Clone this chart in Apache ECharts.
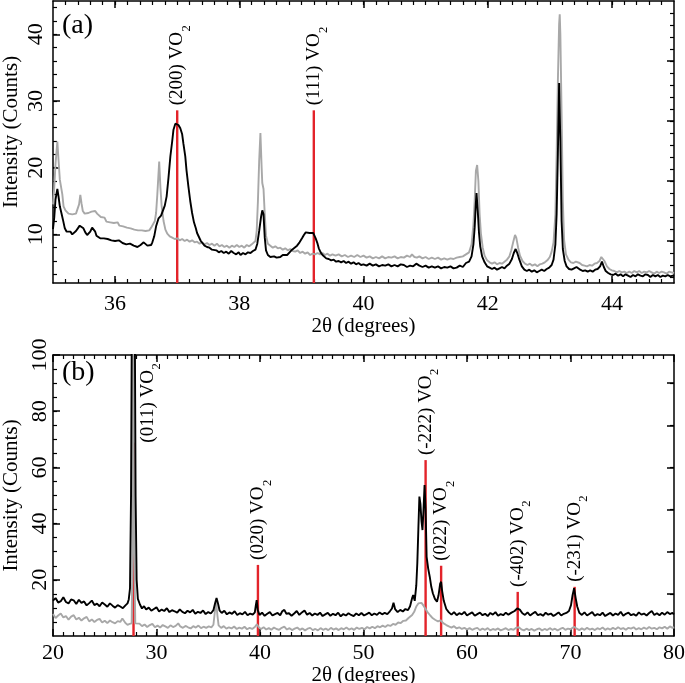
<!DOCTYPE html>
<html>
<head>
<meta charset="utf-8">
<script src="https://cdn.jsdelivr.net/npm/echarts@6/dist/echarts.min.js"></script>
<style>
  html, body { margin: 0; padding: 0; background: #fff; }
  #chart { width: 685px; height: 683px; }
</style>
</head>
<body>
<div id="chart"></div>
<script>
// ---- panel (a): 35-45 deg, black = sample 1, grey = sample 2
const blackA = [[35.00,10.8],[35.02,12.5],[35.04,15.2],[35.07,16.8],[35.09,15.6],[35.11,14.2],[35.14,13.0],[35.16,12.2],[35.19,10.9],[35.22,10.4],[35.25,10.2],[35.28,10.4],[35.31,10.0],[35.34,10.2],[35.37,10.5],[35.40,10.9],[35.43,11.3],[35.46,11.4],[35.49,10.9],[35.52,10.3],[35.55,9.9],[35.57,9.8],[35.60,10.4],[35.63,11.0],[35.65,11.2],[35.68,10.4],[35.70,9.8],[35.73,9.6],[35.76,9.4],[35.79,9.7],[35.82,9.4],[35.85,9.6],[35.88,9.3],[35.91,9.4],[35.94,9.1],[35.97,9.3],[36.00,9.0],[36.03,8.9],[36.06,9.1],[36.09,8.8],[36.12,8.7],[36.15,8.9],[36.18,8.5],[36.21,8.2],[36.24,8.6],[36.27,8.4],[36.30,8.3],[36.33,8.6],[36.36,8.1],[36.38,7.9],[36.41,8.4],[36.44,8.6],[36.46,8.8],[36.49,8.5],[36.52,8.3],[36.55,8.6],[36.58,8.4],[36.60,8.8],[36.63,9.7],[36.66,11.2],[36.70,12.4],[36.74,12.8],[36.77,13.0],[36.80,14.3],[36.83,15.7],[36.86,18.5],[36.89,21.7],[36.92,24.0],[36.94,25.7],[36.97,26.6],[37.00,26.9],[37.02,26.4],[37.05,25.9],[37.08,25.0],[37.10,23.6],[37.13,21.7],[37.15,19.6],[37.18,17.2],[37.21,15.0],[37.24,13.2],[37.27,11.8],[37.30,10.9],[37.32,10.2],[37.35,9.6],[37.38,9.0],[37.40,8.7],[37.44,8.3],[37.48,8.1],[37.52,8.0],[37.56,7.7],[37.59,7.9],[37.63,7.6],[37.67,7.3],[37.71,7.5],[37.75,7.2],[37.79,7.4],[37.83,7.1],[37.87,7.5],[37.91,7.2],[37.95,7.0],[37.99,7.3],[38.02,6.9],[38.06,7.2],[38.10,7.0],[38.14,7.3],[38.18,7.2],[38.22,7.5],[38.26,7.7],[38.29,8.6],[38.32,10.5],[38.35,12.6],[38.37,13.6],[38.39,13.0],[38.41,9.5],[38.43,7.6],[38.46,6.9],[38.50,6.6],[38.53,6.4],[38.56,6.7],[38.60,6.5],[38.63,6.8],[38.66,6.6],[38.70,6.9],[38.73,6.7],[38.77,6.9],[38.81,7.3],[38.85,7.7],[38.89,8.0],[38.93,8.3],[38.97,8.8],[39.01,9.4],[39.04,9.9],[39.07,10.3],[39.10,10.0],[39.13,10.2],[39.16,9.9],[39.19,10.2],[39.21,9.8],[39.23,9.4],[39.26,8.6],[39.28,7.9],[39.31,7.3],[39.34,6.9],[39.37,6.7],[39.40,6.4],[39.44,6.3],[39.48,6.1],[39.52,6.2],[39.56,5.9],[39.60,6.0],[39.64,5.8],[39.68,6.0],[39.72,5.7],[39.76,5.9],[39.80,5.6],[39.84,5.8],[39.88,5.5],[39.92,5.7],[39.96,5.4],[40.00,5.5],[40.05,5.3],[40.10,5.6],[40.15,5.3],[40.20,5.5],[40.25,5.2],[40.30,5.4],[40.35,5.3],[40.40,5.5],[40.45,5.2],[40.50,5.4],[40.55,5.2],[40.60,5.5],[40.65,5.4],[40.70,5.1],[40.75,5.3],[40.80,5.2],[40.85,5.6],[40.90,5.3],[40.95,5.1],[41.00,5.3],[41.05,5.0],[41.10,5.2],[41.15,5.0],[41.20,5.2],[41.25,4.9],[41.30,5.1],[41.35,5.0],[41.40,5.2],[41.45,4.9],[41.50,5.0],[41.55,5.3],[41.60,5.1],[41.65,5.7],[41.70,5.9],[41.74,6.7],[41.77,8.5],[41.79,11.0],[41.81,14.8],[41.82,16.2],[41.84,13.5],[41.86,10.2],[41.88,8.2],[41.91,6.7],[41.95,5.8],[41.99,5.2],[42.03,5.0],[42.07,4.8],[42.11,5.0],[42.15,4.7],[42.19,4.9],[42.23,5.1],[42.27,4.9],[42.31,5.3],[42.35,5.6],[42.39,6.3],[42.42,7.2],[42.45,7.8],[42.48,7.1],[42.51,6.2],[42.55,5.2],[42.59,4.7],[42.63,4.5],[42.67,4.7],[42.71,4.4],[42.75,4.6],[42.79,4.3],[42.83,4.5],[42.87,4.7],[42.91,4.5],[42.95,4.8],[42.99,5.0],[43.03,5.4],[43.06,6.2],[43.09,8.5],[43.11,13.0],[43.13,22.0],[43.15,32.7],[43.17,24.0],[43.19,12.0],[43.21,7.8],[43.24,6.0],[43.27,5.2],[43.31,4.8],[43.35,4.7],[43.39,4.9],[43.43,5.1],[43.46,5.2],[43.49,4.7],[43.53,4.5],[43.57,4.6],[43.61,4.4],[43.65,4.6],[43.69,4.4],[43.73,4.7],[43.77,4.8],[43.81,5.2],[43.84,5.9],[43.87,5.1],[43.90,4.5],[43.94,4.2],[43.98,4.0],[44.02,3.9],[44.06,4.1],[44.10,3.8],[44.14,4.0],[44.18,3.7],[44.22,4.0],[44.26,3.8],[44.30,3.6],[44.34,3.9],[44.38,3.7],[44.42,4.0],[44.46,3.8],[44.50,3.7],[44.54,4.0],[44.58,3.9],[44.62,3.6],[44.66,3.9],[44.70,3.7],[44.74,3.9],[44.78,3.6],[44.82,3.8],[44.86,3.7],[44.90,3.9],[44.94,3.7],[44.98,3.8],[45.00,3.7]];

const greyA = [[35.00,14.5],[35.02,17.0],[35.04,20.5],[35.07,23.9],[35.09,21.0],[35.11,18.2],[35.13,18.0],[35.15,16.0],[35.17,14.2],[35.20,13.6],[35.22,13.4],[35.25,13.1],[35.28,13.4],[35.31,13.0],[35.34,13.3],[35.37,13.1],[35.40,13.4],[35.42,14.5],[35.44,15.9],[35.46,14.6],[35.48,13.5],[35.51,13.1],[35.54,12.8],[35.57,13.2],[35.60,13.5],[35.62,13.4],[35.65,13.7],[35.68,13.5],[35.71,13.1],[35.74,12.8],[35.77,12.6],[35.80,12.3],[35.83,12.5],[35.86,11.9],[35.89,12.2],[35.92,11.8],[35.95,12.0],[35.98,11.7],[36.01,11.5],[36.04,11.8],[36.07,11.3],[36.10,11.6],[36.13,11.2],[36.16,11.4],[36.19,11.0],[36.22,11.3],[36.25,10.9],[36.28,11.2],[36.31,10.7],[36.34,10.9],[36.37,10.6],[36.40,10.9],[36.43,10.6],[36.46,10.8],[36.49,10.5],[36.52,10.8],[36.55,10.6],[36.58,11.0],[36.61,11.2],[36.64,12.0],[36.66,13.2],[36.68,16.0],[36.71,20.9],[36.73,17.0],[36.75,14.2],[36.78,12.0],[36.81,10.7],[36.84,10.1],[36.88,9.7],[36.92,9.5],[36.96,9.3],[37.00,9.4],[37.04,9.1],[37.08,9.3],[37.12,9.0],[37.16,9.2],[37.20,8.9],[37.24,9.1],[37.28,8.8],[37.32,8.9],[37.36,8.6],[37.40,8.8],[37.44,8.5],[37.48,8.7],[37.52,8.4],[37.56,8.6],[37.60,8.3],[37.64,8.6],[37.68,8.2],[37.72,8.4],[37.76,8.1],[37.80,8.3],[37.84,8.0],[37.88,8.3],[37.92,8.1],[37.96,8.4],[38.00,8.1],[38.04,8.3],[38.08,8.0],[38.12,8.4],[38.16,8.2],[38.20,8.5],[38.23,8.4],[38.26,9.0],[38.28,10.5],[38.30,15.0],[38.32,21.0],[38.34,25.2],[38.36,20.0],[38.37,17.7],[38.39,16.8],[38.41,13.0],[38.43,9.8],[38.46,8.6],[38.50,8.3],[38.54,8.0],[38.58,8.2],[38.62,7.9],[38.66,8.0],[38.70,7.7],[38.74,7.9],[38.78,7.6],[38.82,7.8],[38.86,7.5],[38.90,7.4],[38.94,7.6],[38.98,7.2],[39.02,7.4],[39.06,7.1],[39.10,7.3],[39.14,6.9],[39.18,7.1],[39.22,7.0],[39.26,7.2],[39.30,7.0],[39.34,7.2],[39.38,6.9],[39.42,7.1],[39.46,6.8],[39.50,7.0],[39.55,6.8],[39.60,7.0],[39.65,6.7],[39.70,6.9],[39.75,6.6],[39.80,6.8],[39.85,6.6],[39.90,6.9],[39.95,6.6],[40.00,6.8],[40.05,6.5],[40.10,6.7],[40.15,6.4],[40.20,6.6],[40.25,6.4],[40.30,6.7],[40.35,6.4],[40.40,6.6],[40.45,6.5],[40.50,6.7],[40.55,6.4],[40.60,6.6],[40.65,6.5],[40.70,6.8],[40.75,6.6],[40.78,7.0],[40.82,6.6],[40.86,6.5],[40.90,6.7],[40.95,6.4],[41.00,6.6],[41.05,6.3],[41.10,6.5],[41.15,6.3],[41.20,6.5],[41.25,6.2],[41.30,6.4],[41.35,6.2],[41.40,6.4],[41.45,6.3],[41.50,6.5],[41.55,6.6],[41.60,6.7],[41.65,7.0],[41.70,7.3],[41.74,8.5],[41.77,11.5],[41.79,15.0],[41.81,19.5],[41.83,20.4],[41.85,18.0],[41.87,13.0],[41.89,10.2],[41.92,8.0],[41.95,6.8],[41.99,6.1],[42.03,5.8],[42.07,5.6],[42.11,5.8],[42.15,5.5],[42.19,5.7],[42.23,5.6],[42.27,5.9],[42.31,6.2],[42.35,6.7],[42.38,7.6],[42.41,8.8],[42.44,9.9],[42.46,9.5],[42.49,8.0],[42.52,6.8],[42.56,6.0],[42.60,5.6],[42.64,5.4],[42.68,5.6],[42.72,5.3],[42.76,5.5],[42.80,5.2],[42.84,5.5],[42.88,5.6],[42.92,5.8],[42.96,6.1],[43.00,6.6],[43.03,7.4],[43.06,8.8],[43.09,13.0],[43.11,22.0],[43.13,33.0],[43.15,41.5],[43.16,43.0],[43.17,40.0],[43.19,28.0],[43.21,15.0],[43.23,9.2],[43.26,7.0],[43.30,6.2],[43.34,5.8],[43.38,5.7],[43.42,5.9],[43.45,6.1],[43.48,5.7],[43.52,5.4],[43.56,5.3],[43.60,5.2],[43.64,5.4],[43.68,5.3],[43.72,5.6],[43.76,5.7],[43.80,6.0],[43.83,6.6],[43.85,6.9],[43.88,6.0],[43.92,5.2],[43.96,4.8],[44.00,4.6],[44.04,4.5],[44.08,4.3],[44.12,4.5],[44.16,4.3],[44.20,4.4],[44.24,4.2],[44.28,4.4],[44.32,4.2],[44.36,4.5],[44.40,4.3],[44.44,4.5],[44.48,4.2],[44.52,4.4],[44.56,4.3],[44.60,4.5],[44.64,4.3],[44.68,4.1],[44.72,4.4],[44.76,4.2],[44.80,4.4],[44.84,4.3],[44.88,4.1],[44.92,4.4],[44.96,4.3],[45.00,4.2]];

// ---- panel (b): 20-80 deg
const blackB = [[20.0,12.6],[20.25,13.5],[20.5,11.9],[20.75,12.4],[21.0,13.8],[21.25,12.1],[21.5,11.6],[21.75,13.0],[22.0,12.7],[22.25,11.4],[22.5,12.9],[22.75,11.8],[23.0,12.3],[23.25,10.9],[23.5,11.7],[23.75,12.6],[24.0,11.0],[24.25,11.5],[24.5,10.6],[24.75,11.9],[25.0,11.2],[25.25,10.4],[25.5,11.6],[25.75,10.8],[26.0,10.1],[26.25,11.0],[26.5,10.5],[26.75,9.9],[27.0,10.9],[27.2,11.6],[27.32,13.0],[27.44,17.0],[27.54,50.0],[27.62,115.0],[27.9,115.0],[27.98,50.0],[28.08,20.0],[28.2,13.2],[28.4,11.2],[28.6,9.8],[28.8,10.6],[29.0,9.4],[29.25,10.1],[29.5,9.0],[29.75,9.6],[30.0,10.2],[30.25,8.7],[30.5,9.4],[30.75,8.9],[31.0,9.9],[31.25,8.5],[31.5,9.2],[31.75,8.8],[32.0,8.3],[32.25,9.5],[32.5,8.6],[32.75,8.1],[33.0,9.0],[33.25,8.4],[33.5,9.3],[33.75,7.9],[34.0,8.6],[34.25,8.2],[34.5,9.1],[34.75,7.8],[35.0,8.5],[35.25,8.0],[35.5,9.2],[35.65,11.5],[35.8,13.5],[35.95,11.5],[36.1,9.0],[36.3,8.2],[36.55,9.0],[36.8,7.7],[37.05,8.4],[37.3,7.9],[37.55,8.8],[37.8,7.5],[38.05,8.1],[38.3,7.7],[38.55,8.6],[38.8,7.4],[39.05,8.0],[39.3,7.6],[39.5,8.4],[39.6,11.0],[39.68,12.8],[39.78,9.2],[39.95,7.5],[40.2,8.3],[40.45,7.2],[40.7,7.9],[40.95,8.5],[41.2,7.3],[41.45,7.8],[41.7,8.2],[41.95,7.4],[42.15,8.8],[42.35,9.3],[42.55,7.9],[42.8,8.1],[43.05,7.2],[43.3,8.0],[43.55,8.9],[43.8,7.5],[44.05,8.4],[44.3,9.1],[44.55,7.6],[44.8,8.2],[45.05,7.3],[45.3,8.0],[45.55,7.5],[45.8,8.3],[46.05,7.1],[46.3,7.7],[46.55,8.2],[46.8,7.2],[47.05,7.9],[47.3,7.4],[47.55,8.3],[47.8,7.0],[48.05,7.8],[48.3,7.3],[48.55,8.1],[48.8,7.5],[49.05,7.1],[49.3,8.0],[49.55,7.4],[49.8,8.2],[50.05,7.3],[50.3,7.8],[50.55,8.3],[50.8,7.4],[51.05,8.0],[51.3,7.5],[51.55,8.4],[51.8,7.7],[52.05,8.2],[52.3,7.8],[52.55,8.8],[52.75,9.8],[52.9,11.8],[53.05,9.6],[53.3,8.5],[53.55,9.3],[53.8,8.7],[54.05,9.6],[54.3,9.2],[54.5,10.6],[54.7,13.5],[54.8,14.6],[54.95,12.5],[55.1,18.0],[55.2,26.0],[55.3,38.0],[55.4,49.6],[55.5,47.0],[55.6,41.0],[55.7,37.7],[55.8,45.0],[55.9,53.7],[56.0,45.0],[56.1,28.2],[56.25,24.0],[56.4,21.1],[56.55,17.5],[56.7,15.2],[56.9,13.2],[57.1,12.2],[57.25,14.5],[57.4,18.5],[57.5,19.3],[57.6,16.0],[57.75,12.6],[58.0,9.6],[58.25,8.4],[58.5,7.6],[58.75,8.5],[59.0,7.4],[59.25,8.1],[59.5,7.7],[59.75,8.6],[60.0,7.3],[60.25,7.9],[60.5,8.4],[60.75,7.2],[61.0,7.8],[61.25,8.3],[61.5,7.4],[61.75,7.9],[62.0,7.1],[62.25,8.2],[62.5,7.6],[62.75,8.5],[63.0,7.2],[63.25,7.8],[63.5,7.4],[63.75,8.3],[64.0,7.6],[64.3,8.3],[64.6,8.9],[64.85,9.8],[65.1,9.4],[65.35,8.1],[65.6,7.5],[65.85,8.4],[66.1,7.3],[66.35,8.0],[66.6,8.6],[66.85,7.4],[67.1,7.8],[67.35,7.2],[67.6,8.3],[67.85,7.6],[68.1,8.0],[68.35,7.1],[68.6,7.7],[68.85,8.4],[69.1,7.3],[69.35,7.9],[69.6,8.2],[69.85,8.9],[70.05,11.0],[70.2,14.5],[70.35,17.0],[70.5,13.5],[70.65,10.5],[70.85,8.3],[71.1,7.5],[71.35,8.4],[71.6,7.3],[71.85,7.9],[72.1,8.5],[72.35,7.2],[72.6,7.8],[72.85,7.4],[73.1,8.3],[73.35,7.1],[73.6,7.7],[73.85,8.2],[74.1,7.3],[74.35,8.0],[74.6,7.5],[74.85,8.6],[75.1,7.2],[75.35,7.9],[75.6,8.3],[75.85,7.4],[76.1,7.8],[76.35,7.2],[76.6,8.4],[76.85,7.6],[77.1,8.0],[77.35,7.3],[77.6,8.2],[77.85,8.9],[78.1,7.5],[78.35,8.1],[78.6,7.4],[78.85,8.3],[79.1,7.6],[79.35,8.5],[79.6,7.8],[79.85,8.2],[80.0,7.7]];

const greyB = [[20.0,7.8],[20.25,6.4],[20.5,7.3],[20.75,8.0],[21.0,6.6],[21.25,7.1],[21.5,5.8],[21.75,6.9],[22.0,7.4],[22.25,5.9],[22.5,6.5],[22.75,5.5],[23.0,6.3],[23.25,6.8],[23.5,5.2],[23.75,5.9],[24.0,5.0],[24.25,5.7],[24.5,6.1],[24.75,4.8],[25.0,5.4],[25.25,4.6],[25.5,5.5],[25.75,4.9],[26.0,4.5],[26.25,5.3],[26.5,5.0],[26.7,6.2],[26.85,5.4],[27.0,4.6],[27.2,4.0],[27.4,4.3],[27.6,4.5],[27.68,30.0],[27.74,110.0],[27.8,110.0],[27.86,30.0],[27.95,4.5],[28.1,3.8],[28.35,4.4],[28.6,3.5],[28.85,4.1],[29.1,3.2],[29.35,3.9],[29.6,4.3],[29.85,3.1],[30.1,3.7],[30.35,3.0],[30.6,3.9],[30.85,3.4],[31.1,2.9],[31.35,3.8],[31.6,3.2],[31.85,3.6],[32.1,4.5],[32.3,3.4],[32.55,2.9],[32.8,3.6],[33.05,3.1],[33.3,2.7],[33.55,3.5],[33.8,3.0],[34.05,3.7],[34.3,2.8],[34.55,3.3],[34.8,2.9],[35.05,3.4],[35.3,3.1],[35.5,4.0],[35.62,8.0],[35.75,12.5],[35.88,7.5],[36.0,3.8],[36.25,2.9],[36.5,3.5],[36.75,2.6],[37.0,3.1],[37.25,2.7],[37.5,3.4],[37.75,2.5],[38.0,3.0],[38.25,2.6],[38.5,3.3],[38.75,2.4],[39.0,2.9],[39.25,2.5],[39.5,3.2],[39.7,4.2],[39.9,3.0],[40.1,2.5],[40.35,3.1],[40.6,2.3],[40.85,2.8],[41.1,2.2],[41.35,3.0],[41.6,2.5],[41.85,2.2],[42.1,2.9],[42.35,3.3],[42.6,2.3],[42.85,2.8],[43.1,2.1],[43.35,2.6],[43.6,3.0],[43.85,2.2],[44.1,2.7],[44.35,2.0],[44.6,2.6],[44.85,2.9],[45.1,2.1],[45.35,2.5],[45.6,2.0],[45.85,2.8],[46.1,2.2],[46.35,2.6],[46.6,2.1],[46.85,2.9],[47.1,2.3],[47.35,2.7],[47.6,2.1],[47.85,2.8],[48.1,2.4],[48.35,3.0],[48.6,2.3],[48.85,2.7],[49.1,2.2],[49.35,3.0],[49.6,2.5],[49.85,2.9],[50.1,2.4],[50.35,3.2],[50.6,2.7],[50.85,3.3],[51.1,2.8],[51.35,3.5],[51.6,3.1],[51.85,3.7],[52.1,3.2],[52.35,3.9],[52.6,3.6],[52.85,4.3],[53.1,4.0],[53.35,4.8],[53.6,4.6],[53.85,5.4],[54.1,5.5],[54.35,6.4],[54.7,7.5],[54.9,8.6],[55.1,10.5],[55.3,11.6],[55.45,12.2],[55.6,11.8],[55.8,10.8],[56.0,9.6],[56.2,8.4],[56.45,7.3],[56.7,6.3],[56.95,5.7],[57.2,5.2],[57.45,5.6],[57.7,4.6],[58.0,3.9],[58.25,3.4],[58.5,3.0],[58.75,3.5],[59.0,2.7],[59.25,3.1],[59.5,2.5],[59.75,2.9],[60.0,2.3],[60.25,2.8],[60.5,2.2],[60.75,2.6],[61.0,2.9],[61.25,2.1],[61.5,2.6],[61.75,2.2],[62.0,2.8],[62.25,2.0],[62.5,2.5],[62.75,2.2],[63.0,2.7],[63.25,2.0],[63.5,2.4],[63.75,2.8],[64.0,2.1],[64.25,2.5],[64.5,2.2],[64.75,2.9],[65.0,3.1],[65.25,2.4],[65.5,2.0],[65.75,2.6],[66.0,2.1],[66.25,2.5],[66.5,1.9],[66.75,2.4],[67.0,2.7],[67.25,2.0],[67.5,2.5],[67.75,2.1],[68.0,2.8],[68.25,2.2],[68.5,2.6],[68.75,2.0],[69.0,2.5],[69.25,2.9],[69.5,2.2],[69.75,2.6],[70.0,2.4],[70.35,3.3],[70.6,2.6],[70.85,2.1],[71.1,2.7],[71.35,2.2],[71.6,2.9],[71.85,2.3],[72.1,2.6],[72.35,2.1],[72.6,2.8],[72.85,2.4],[73.1,3.0],[73.35,2.2],[73.6,2.7],[73.85,2.3],[74.1,2.9],[74.35,2.4],[74.6,3.1],[74.85,2.5],[75.1,2.8],[75.35,2.2],[75.6,2.9],[75.85,2.6],[76.1,3.1],[76.35,2.3],[76.6,2.8],[76.85,2.4],[77.1,3.0],[77.35,2.5],[77.6,3.2],[77.85,2.6],[78.1,2.9],[78.35,2.4],[78.6,3.1],[78.85,2.7],[79.1,3.3],[79.35,2.6],[79.6,3.4],[79.85,2.9],[80.0,3.2]];

// VO2 reflections: position, stick height, hkl
const reflA = [[37.0, 28.6], [39.2, 28.6]];
const hklA = ['(200)', '(111)'];
const reflB = [[27.78, 68.8], [39.8, 25.3], [56.0, 62.6], [57.5, 25.0], [64.9, 15.7], [70.4, 17.5]];
const hklB = ['(011)', '(020)', '(-222)', '(022)', '(-402)', '(-231)'];

// ticks
const xLabelsA = [36, 38, 40, 42, 44];
const yLabelsA = [10, 20, 30, 40];
const xLabelsB = [20, 30, 40, 50, 60, 70, 80];
const yLabelsB = [20, 40, 60, 80, 100];

const range = (a, b, s) => { const r = []; for (let v = a; v <= b + 1e-9; v += s) r.push(+v.toFixed(2)); return r; };
const xMinorA = range(35.2, 44.8, 0.2);
const yMinorA = range(4, 44, 2);
const yRightA = range(9, 36, 9), yRightMinorA = range(3.6, 43.2, 1.8);
const xMinorB = range(21, 79, 1);
const yMinorB = range(5, 95, 5);
const yRightB = range(15, 90, 15);

const FONT = '"Liberation Serif", "DejaVu Serif", serif';
const RED = '#e3232a';
const LINE = {color: '#000', width: 1.5};

function axisPair(grid, pos, min, max, majors, minors, label, name) {
  const major = {
    type: 'value', gridIndex: grid, position: pos, min: min, max: max,
    axisLine: {show: true, onZero: false, lineStyle: LINE},
    axisTick: {show: true, inside: true, length: 7, customValues: majors, lineStyle: LINE},
    axisLabel: label ? Object.assign({customValues: majors, color: '#000', fontFamily: FONT, fontSize: 22}, label) : {show: false},
    splitLine: {show: false}
  };
  if (name) Object.assign(major, name);
  const minor = {
    type: 'value', gridIndex: grid, position: pos, min: min, max: max,
    axisLine: {show: false, onZero: false},
    axisTick: {show: true, inside: true, length: 4, customValues: minors, lineStyle: {color: '#000', width: 1.2}},
    axisLabel: {show: false},
    splitLine: {show: false}
  };
  return [major, minor];
}

const nameStyle = {fontFamily: FONT, fontSize: 21, color: '#000'};
const xName = gap => ({name: '2θ (degrees)', nameLocation: 'middle', nameGap: gap, nameTextStyle: nameStyle});
const yName = (gap, pad) => ({name: 'Intensity (Counts)', nameLocation: 'middle', nameGap: gap,
  nameTextStyle: Object.assign({padding: pad}, nameStyle)});

const xAxes = [].concat(
  axisPair(0, 'bottom', 35, 45, xLabelsA, xMinorA, {margin: 10}, xName(32)),
  axisPair(0, 'top', 35, 45, xLabelsA, xMinorA, null),
  axisPair(1, 'bottom', 20, 80, xLabelsB, xMinorB, {margin: 6}, xName(20)),
  axisPair(1, 'top', 20, 80, xLabelsB, xMinorB, null)
);
const yAxes = [].concat(
  axisPair(0, 'left', 2.7, 45, yLabelsA, yMinorA, null, yName(31, [0, 0, 0, 20])),
  axisPair(0, 'right', 2.7, 45, yRightA, yRightMinorA, null),
  axisPair(1, 'left', 0, 100, yLabelsB, yMinorB, null, yName(31, 0)),
  axisPair(1, 'right', 0, 100, yRightB, yRightB, null)
);

function trace(data, color, xi, yi) {
  return {
    type: 'line', data: data, xAxisIndex: xi, yAxisIndex: yi,
    showSymbol: false, symbol: 'none', clip: true, silent: true,
    lineStyle: {color: color, width: 1.9}
  };
}

// y tick labels are drawn upright along the axis (rotated 90 deg)
function yTickLabels(values, xi, yi, xMin, margin) {
  return {
    type: 'custom', xAxisIndex: xi, yAxisIndex: yi, silent: true,
    data: values.map(v => [xMin, v]),
    renderItem: function (params, api) {
      const p = api.coord([api.value(0), api.value(1)]);
      return {
        type: 'text', x: p[0] - margin, y: p[1], rotation: Math.PI / 2,
        style: {text: String(api.value(1)), fontFamily: FONT, fontSize: 22, fill: '#000',
                align: 'center', verticalAlign: 'bottom'}
      };
    }
  };
}

// measure text width for placing the subscript
const measureCtx = document.createElement('canvas').getContext('2d');
function textWidth(str, size) {
  measureCtx.font = size + 'px ' + FONT;
  return measureCtx.measureText(str).width;
}

function sticks(data, hkl, xi, yi, yMin, shifts) {
  return {
    type: 'custom', xAxisIndex: xi, yAxisIndex: yi, data: data, silent: true,
    renderItem: function (params, api) {
      const x = api.value(0), top = api.value(1);
      const p0 = api.coord([x, yMin]);
      const p1 = api.coord([x, top]);
      const label = hkl[params.dataIndex] + ' VO';
      const sh = shifts[hkl[params.dataIndex]] || [0, -5];
      const w = textWidth(label, 19);
      const ax = p1[0] + sh[0], ay = p1[1] + sh[1];
      return {
        type: 'group',
        children: [
          {type: 'line', shape: {x1: p0[0], y1: p0[1], x2: p1[0], y2: p1[1]},
           style: {stroke: RED, lineWidth: 2.4}},
          {type: 'text', x: ax, y: ay, rotation: Math.PI / 2,
           style: {text: label, fontFamily: FONT, fontSize: 19, fill: '#000',
                   align: 'left', verticalAlign: 'middle'}},
          {type: 'text', x: ax + 9.5, y: ay - w - 0.5, rotation: Math.PI / 2,
           style: {text: '2', fontFamily: FONT, fontSize: 12.5, fill: '#000',
                   align: 'left', verticalAlign: 'middle'}}
        ]
      };
    }
  };
}

const chart = echarts.init(document.getElementById('chart'), null, {renderer: 'canvas'});
chart.setOption({
  animation: false,
  backgroundColor: '#fff',
  grid: [
    {left: 53, right: 11, top: 1, height: 282, outerBoundsMode: 'none'},
    {left: 53, right: 11, top: 355, height: 281, outerBoundsMode: 'none'}
  ],
  xAxis: xAxes,
  yAxis: yAxes,
  graphic: [
    {type: 'text', left: 62, top: 12, style: {text: '(a)', fontFamily: FONT, fontSize: 28, fill: '#000'}},
    {type: 'text', left: 62, top: 359, style: {text: '(b)', fontFamily: FONT, fontSize: 28, fill: '#000'}}
  ],
  series: [
    trace(greyA, '#a8a8a8', 0, 0),
    trace(blackA, '#000', 0, 0),
    sticks(reflA, hklA, 0, 0, 2.7, {}),
    yTickLabels(yLabelsA, 0, 0, 35, 6),
    trace(greyB, '#a8a8a8', 4, 4),
    trace(blackB, '#000', 4, 4),
    sticks(reflB, hklB, 4, 4, 0, {'(011)': [14, 0]}),
    yTickLabels(yLabelsB, 4, 4, 20, 2)
  ]
});
</script>
</body>
</html>
